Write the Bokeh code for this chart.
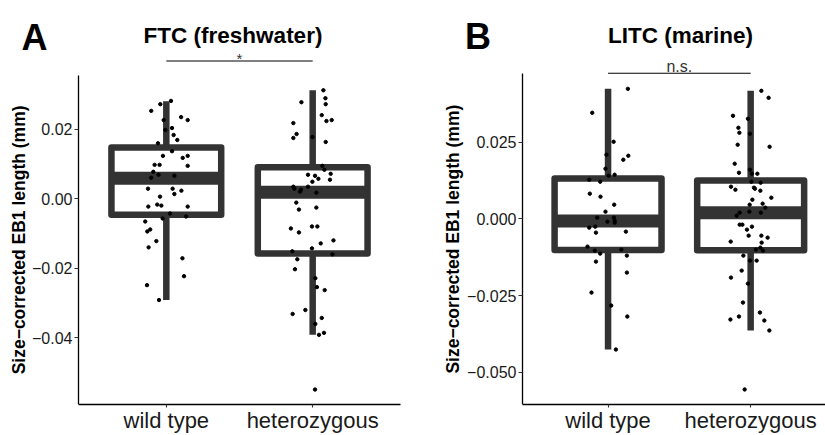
import math
from bokeh.plotting import figure
from bokeh.models import Label, FixedTicker, CustomJSTickFormatter, Range1d
from bokeh.layouts import row
from bokeh.embed import file_html
from bokeh.resources import INLINE

categories = ["wild type", "heterozygous"]

# ---------------- Panel A: FTC (freshwater) ----------------
ftc_wt_y = [0.02809, 0.02714, 0.02523, 0.02343, 0.02257, 0.02257, 0.02029, 0.01971,
            0.01829, 0.01686, 0.01591, 0.01363, 0.01229, 0.01229, 0.01171, 0.00971,
            0.00971, 0.00943, 0.00771, 0.00686, 0.00657, 0.00600, 0.00286, 0.00286,
            0.00229, 0.00134, 0.00057, -0.00229, -0.00171, -0.00200, -0.00229, -0.00429,
            -0.00571, -0.00514, -0.00657, -0.00886, -0.00943, -0.01220, -0.01400, -0.01714,
            -0.02229, -0.02486, -0.02914]
ftc_wt_jitter = [0.032, -0.041, -0.103, 0.101, 0.146, -0.018, 0.039, -0.007,
                 0.050, 0.075, -0.057, 0.039, -0.023, 0.146, 0.112, -0.080,
                 -0.046, 0.146, -0.089, -0.053, 0.055, -0.103, -0.125, 0.043,
                 0.103, 0.055, -0.043, -0.123, -0.062, -0.034, 0.146, 0.025,
                 -0.025, 0.135, -0.144, -0.110, -0.130, -0.068, -0.121, 0.110,
                 0.121, -0.132, -0.050]
ftc_het_y = [0.03114, 0.02886, 0.02771, 0.02714, 0.02400, 0.02229, 0.02257, 0.02171,
             0.01857, 0.01743, 0.01771, 0.01629, 0.00943, 0.00829, 0.00686, 0.00657,
             0.00714, 0.00571, 0.00543, 0.00486, 0.00343, 0.00343, 0.00286, 0.00257,
             0.00200, 0.00171, -0.00114, -0.00314, -0.00257, -0.00857, -0.00800, -0.00800,
             -0.00971, -0.01200, -0.01286, -0.01514, -0.01429, -0.01600, -0.01743, -0.02029,
             -0.02286, -0.02543, -0.02629, -0.03200, -0.03314, -0.03429, -0.03600, -0.03914,
             -0.03857, -0.05486]
ftc_het_jitter = [0.073, 0.087, -0.077, 0.089, 0.062, 0.094, 0.130, -0.132,
                  -0.110, -0.132, -0.002, 0.089, 0.066, 0.080, -0.032, 0.016,
                  0.123, 0.039, 0.118, -0.002, -0.032, -0.132, -0.125, -0.080,
                  -0.087, 0.025, -0.112, -0.094, 0.025, -0.149, -0.005, 0.032,
                  -0.094, 0.142, 0.055, -0.139, -0.005, 0.135, -0.105, -0.121,
                  0.018, 0.029, 0.082, -0.050, -0.137, 0.062, 0.018, 0.043,
                  0.077, 0.016]
ftc_q1 = [-0.00466, -0.01577]
ftc_median = [0.00586, 0.00180]
ftc_q3 = [0.01466, 0.00905]
ftc_lower = [-0.02914, -0.03914]
ftc_upper = [0.02800, 0.03114]
ftc_yticks = [-0.04, -0.02, 0.0, 0.02]

# ---------------- Panel B: LITC (marine) ----------------
litc_wt_y = [0.04248, 0.03466, 0.02520, 0.02097, 0.02064, 0.01933, 0.01640, 0.01412,
             0.01444, 0.01281, 0.01216, 0.00825, 0.00727, 0.00466, 0.00238, 0.00042,
             0.00042, -0.00088, -0.00055, -0.00121, -0.00284, -0.00251, -0.00447, -0.00414,
             -0.00903, -0.01034, -0.01131, -0.01001, -0.01197, -0.01392, -0.01751, -0.02403,
             -0.02827, -0.03186, -0.04262]
litc_wt_jitter = [0.139, -0.111, 0.039, -0.011, 0.142, 0.107, -0.018, 0.004,
                  0.046, -0.132, -0.055, -0.128, -0.053, 0.043, -0.018, -0.076,
                  0.041, -0.004, 0.046, 0.046, -0.132, -0.090, -0.085, 0.125,
                  -0.144, -0.093, -0.055, 0.093, 0.132, -0.085, 0.132, -0.116,
                  0.022, 0.135, 0.055]
litc_het_y = [0.04183, 0.03955, 0.03368, 0.03270, 0.02977, 0.02814, 0.02781, 0.02423,
              0.02357, 0.01803, 0.01607, 0.01509, 0.01477, 0.01477, 0.01216, 0.01184,
              0.01053, 0.00955, 0.01021, 0.00988, 0.00923, 0.00694, 0.00629, 0.00466,
              0.00499, 0.00368, 0.00205, 0.00108, 0.00238, 0.00205, -0.00186, -0.00186,
              -0.00251, -0.00349, -0.00545, -0.00545, -0.00610, -0.00740, -0.00773, -0.00936,
              -0.01001, -0.01034, -0.01197, -0.01360, -0.01360, -0.01686, -0.01914, -0.02110,
              -0.02730, -0.03055, -0.03186, -0.03283, -0.03316, -0.03642, -0.05567]
litc_het_jitter = [0.075, 0.126, -0.124, -0.019, -0.086, -0.079, -0.005, -0.091,
                   0.133, -0.112, -0.005, -0.082, 0.009, 0.047, 0.005, 0.070,
                   -0.138, -0.107, 0.023, 0.030, 0.068, 0.145, 0.012, -0.007,
                   0.084, 0.103, -0.077, -0.098, -0.009, 0.072, -0.077, -0.058,
                   0.009, -0.026, -0.014, 0.075, 0.119, -0.140, 0.077, 0.068,
                   0.037, 0.086, -0.051, -0.005, 0.042, -0.063, -0.138, -0.019,
                   -0.054, 0.065, -0.082, -0.142, 0.096, 0.131, -0.042]
litc_q1 = [-0.01011, -0.01024]
litc_median = [-0.00065, 0.00205]
litc_q3 = [0.01324, 0.01259]
litc_lower = [-0.04262, -0.03642]
litc_upper = [0.04248, 0.04183]
litc_yticks = [-0.05, -0.025, 0.0, 0.025]

FONT = "Liberation Sans"
BOX = "#333333"
HALF = 0.375


def make_panel(letter, title, sig, wt_y, wt_j, het_y, het_j, q1, med, q3, lo_w, hi_w,
               yticks, digits, lay):
    allv = wt_y + het_y
    span = max(allv) - min(allv)
    lo = min(allv) - 0.05 * span
    hi = max(allv) + 0.05 * span
    W, H = lay["width"], 435
    off = lay["offset"]
    fb, gt = lay["frame_bottom"], lay["gg_top"]
    yscale = (fb - gt) / (hi - lo)
    ytop = hi + gt / yscale
    xscale = lay["xscale"]
    gl = lay["gg_left"]

    def X(px):
        return 0.4 + (px - gl) / xscale

    def Y(py):
        return ytop - py / yscale

    xs_, xe_ = X(off), X(off + W)
    p = figure(width=W, height=H, x_range=Range1d(xs_, xe_), y_range=Range1d(lo, ytop),
               output_backend="svg", toolbar_location=None, title=None,
               min_border_left=0, min_border_right=0, min_border_top=0,
               min_border_bottom=H - fb)
    p.outline_line_color = None
    p.xgrid.visible = False
    p.ygrid.visible = False
    p.background_fill_color = "white"
    p.border_fill_color = "white"

    xs = [1, 2]
    # whiskers
    p.segment(x0=xs, y0=q3, x1=xs, y1=hi_w, line_color=BOX, line_width=6.5, line_cap="butt")
    p.segment(x0=xs, y0=q1, x1=xs, y1=lo_w, line_color=BOX, line_width=6.5, line_cap="butt")
    # boxes
    p.quad(left=[x - HALF for x in xs], right=[x + HALF for x in xs], top=q3, bottom=q1,
           fill_color="white", line_color=BOX, line_width=6.5, line_join="round")
    # medians
    p.segment(x0=[x - HALF for x in xs], y0=med, x1=[x + HALF for x in xs], y1=med,
              line_color=BOX, line_width=13, line_cap="butt")
    # jittered points
    p.scatter(x=[1 + j for j in wt_j], y=wt_y, size=3.4, color="black")
    p.scatter(x=[2 + j for j in het_j], y=het_y, size=3.4, color="black")

    # significance bar
    p.segment(x0=[1], y0=[Y(lay["sig_y"])], x1=[2], y1=[Y(lay["sig_y"])],
              line_color="black", line_width=1.1)
    p.add_layout(Label(x=1.5, y=Y(lay["sig_text_y"]), text=sig, text_font=FONT,
                       text_font_size=lay["sig_size"], text_color="#333333",
                       text_align="center", text_baseline="alphabetic"))
    # title and panel letter
    p.add_layout(Label(x=X(lay["title_x"]), y=Y(lay["title_y"]), text=title, text_font=FONT,
                       text_font_size="22.5px", text_font_style="bold", text_color="black",
                       text_align="center", text_baseline="alphabetic"))
    p.add_layout(Label(x=X(lay["letter_x"]), y=Y(lay["letter_y"]), text=letter, text_font=FONT,
                       text_font_size="36px", text_font_style="bold", text_color="black",
                       text_align="center", text_baseline="alphabetic"))
    # y-axis title
    p.add_layout(Label(x=X(lay["ylab_x"]), y=Y((gt + fb) / 2),
                       text="Size\u2212corrected EB1 length (mm)",
                       text_font=FONT, text_font_size="17.5px", text_font_style="bold",
                       text_color="black", angle=math.pi / 2,
                       text_align="center", text_baseline="middle"))

    ya = p.yaxis[0]
    ya.fixed_location = 0.4
    ya.ticker = FixedTicker(ticks=yticks)
    ya.formatter = CustomJSTickFormatter(
        code="return tick.toFixed(%d).replace('-', '\u2212');" % digits)
    ya.bounds = (lo, hi)
    ya.axis_line_color = "black"
    ya.axis_line_width = 1.3
    ya.major_tick_line_color = "#333333"
    ya.major_tick_line_width = 1.1
    ya.major_tick_out = 4
    ya.major_tick_in = 0
    ya.minor_tick_line_color = None
    ya.major_label_standoff = 2
    ya.major_label_text_font = FONT
    ya.major_label_text_font_size = "16px"
    ya.major_label_text_color = "#1a1a1a"

    xa = p.xaxis[0]
    xa.ticker = FixedTicker(ticks=[1, 2])
    xa.formatter = CustomJSTickFormatter(args=dict(cats=categories),
                                         code="return cats[Math.round(tick) - 1];")
    xa.bounds = (0.4, min(2.6, xe_))
    xa.axis_line_color = "black"
    xa.axis_line_width = 1.3
    xa.major_tick_line_color = "#333333"
    xa.major_tick_line_width = 1.1
    xa.major_tick_out = 3
    xa.major_tick_in = 0
    xa.minor_tick_line_color = None
    xa.major_label_standoff = 0
    xa.major_label_text_font = FONT
    xa.major_label_text_font_size = "22px"
    xa.major_label_text_color = "#1a1a1a"
    return p


layA = dict(width=412, offset=0, gg_left=78, xscale=322 / 2.2, frame_bottom=405, gg_top=75,
            sig_y=60.7, sig_text_y=58.5, sig_size="15px",
            title_x=232.5, title_y=35, letter_x=34, letter_y=37, ylab_x=18)
layB = dict(width=413, offset=412, gg_left=522, xscale=142.6, frame_bottom=404, gg_top=73.3,
            sig_y=72.7, sig_text_y=65.5, sig_size="16px",
            title_x=680, title_y=35, letter_x=477.5, letter_y=36, ylab_x=452)

pA = make_panel("A", "FTC (freshwater)", "*", ftc_wt_y, ftc_wt_jitter, ftc_het_y, ftc_het_jitter,
                ftc_q1, ftc_median, ftc_q3, ftc_lower, ftc_upper, ftc_yticks, 2, layA)
pB = make_panel("B", "LITC (marine)", "n.s.", litc_wt_y, litc_wt_jitter, litc_het_y, litc_het_jitter,
                litc_q1, litc_median, litc_q3, litc_lower, litc_upper, litc_yticks, 3, layB)

layout = row(pA, pB)
open("out.html", "w").write(file_html(layout, INLINE))
